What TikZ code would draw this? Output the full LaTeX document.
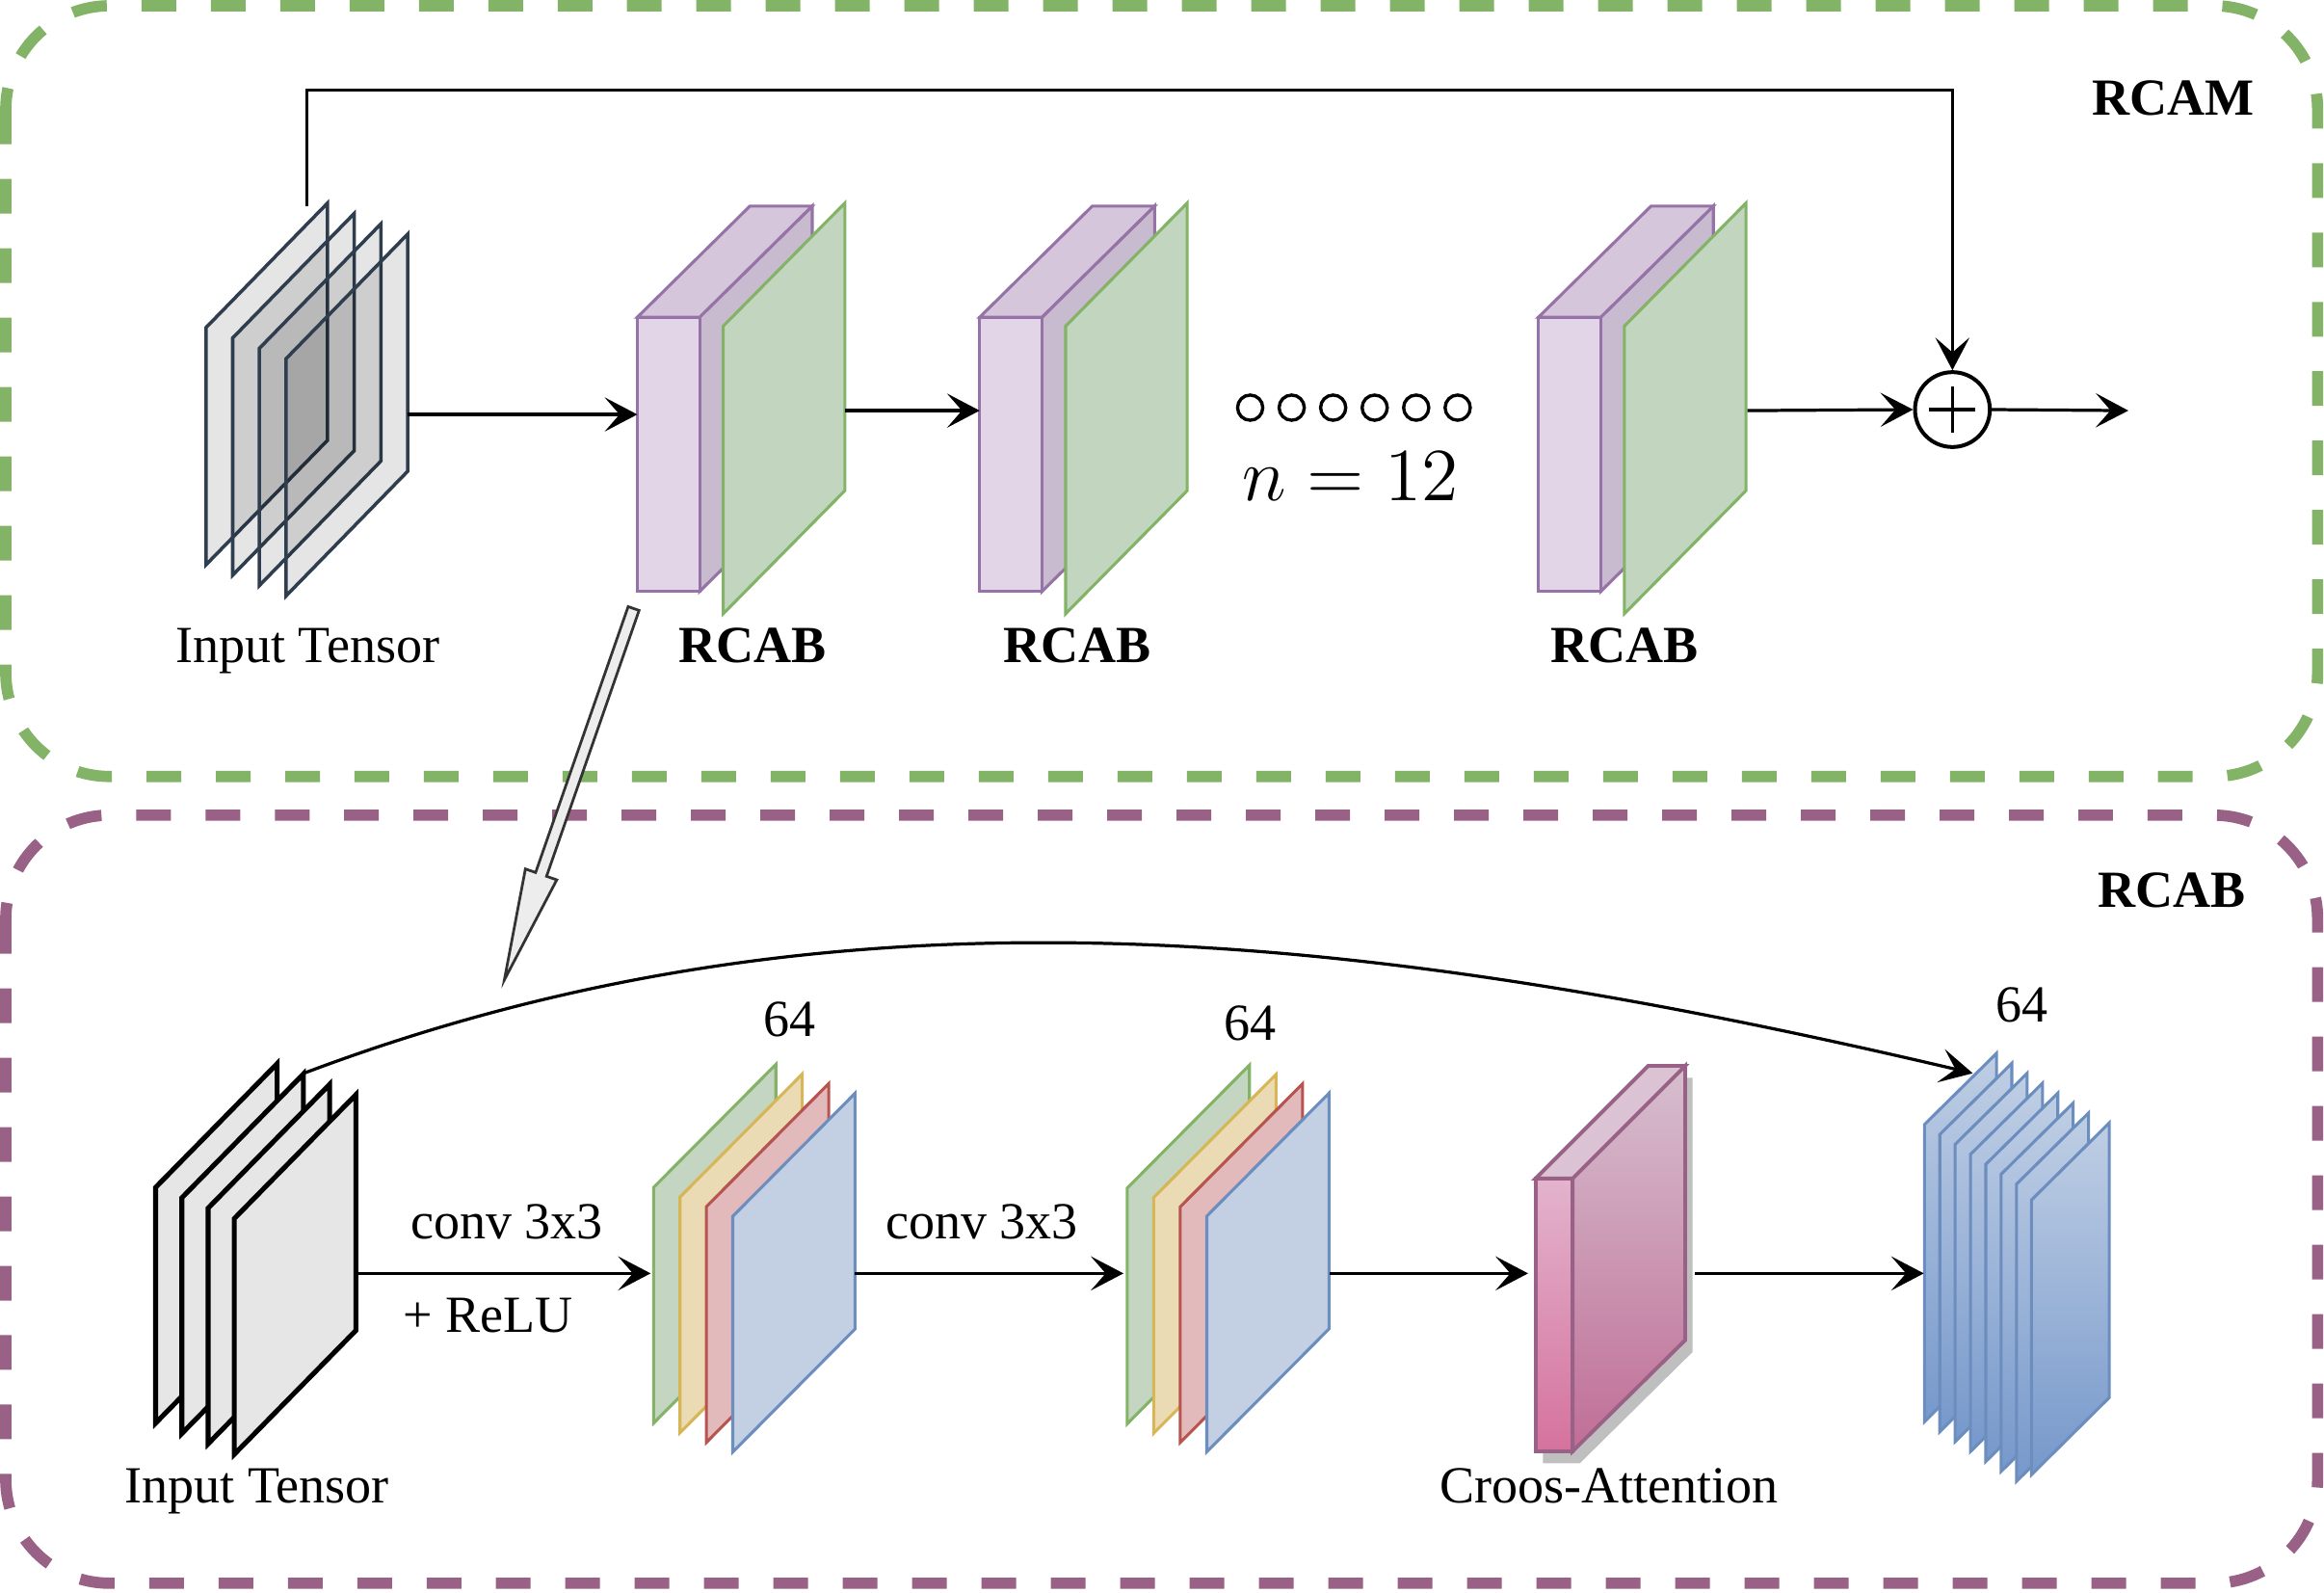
\documentclass[tikz,border=0pt]{standalone}
\usepackage{amsmath}
\usepackage{fontspec}
\setmainfont{Liberation Serif}
\usepackage{tikz}
\usetikzlibrary{arrows.meta,calc}

\definecolor{rcamgreen}{HTML}{82B366}
\definecolor{rcabpurple}{HTML}{996185}
\definecolor{slate}{HTML}{2F3E4E}
\definecolor{lilac}{HTML}{E2D5E7}
\definecolor{lilactop}{HTML}{D6C6DC}
\definecolor{lilacside}{HTML}{C9BBCF}
\definecolor{lilacline}{HTML}{9673A6}
\definecolor{sage}{HTML}{C2D6BF}
\definecolor{sageline}{HTML}{82B366}
\definecolor{mapgreen}{HTML}{C4D5C2}
\definecolor{mapyellow}{HTML}{EADBB4}
\definecolor{mapred}{HTML}{E2BABB}
\definecolor{mapblue}{HTML}{C3D0E3}
\definecolor{yellowline}{HTML}{D6B656}
\definecolor{redline}{HTML}{B85450}
\definecolor{blueline}{HTML}{6C8EBF}
\definecolor{stacktop}{HTML}{BFCEE4}
\definecolor{stackbot}{HTML}{7698CB}
\definecolor{pinkline}{HTML}{996185}
\definecolor{pinktop}{HTML}{DCC3D4}
\definecolor{pinkfronttop}{HTML}{E3B3CC}
\definecolor{pinkfrontbot}{HTML}{D5729E}
\definecolor{pinksidetop}{HTML}{D6BFCF}
\definecolor{pinksidebot}{HTML}{C06E96}
\definecolor{tensorgrey}{HTML}{E6E6E6}

\tikzset{
  lbl/.style={font=\fontsize{10}{12}\selectfont, anchor=base, inner sep=0pt},
  boxlbl/.style={font=\fontsize{10}{12}\selectfont\bfseries, anchor=base, inner sep=0pt},
  arr/.style={-{Stealth[length=2.2mm,width=2.3mm,inset=1mm]}, line width=0.21mm},
  panel/.style={dash pattern=on 2.34mm off 2.34mm, line width=0.76mm, rounded corners=7mm},
}

\begin{document}
\begin{tikzpicture}[x=0.1mm, y=-0.1mm]
        \useasboundingbox (0,0) rectangle (1568,1074);

        \draw[panel, rcamgreen] (3.9,3.9) rectangle (1563.7,523.8);
        \draw[panel, rcabpurple] (3.9,549.9) rectangle (1563.7,1068);

        \foreach \i in {0,...,3}
            \draw[slate, line width=0.23mm, fill=black, fill opacity=0.1]
                ({139+18*\i},{221+7*\i}) -- ++(82,-84) -- ++(0,160) -- ++(-82,84) -- cycle;

        \foreach \dx in {0,231,608}{
            \draw[lilacline, line width=0.2mm, fill=lilacside] ({472+\dx},214) -- ++(76,-75) -- ++(0,185) -- ++(-76,75) -- cycle;
            \draw[lilacline, line width=0.2mm, fill=lilactop] ({430+\dx},214) -- ++(76,-75) -- ++(42,0) -- ++(-76,75) -- cycle;
            \draw[lilacline, line width=0.2mm, fill=lilac] ({430+\dx},214) rectangle ++(42,185);
            \draw[sageline, line width=0.2mm, fill=sage] ({488+\dx},220) -- ++(82,-83) -- ++(0,194) -- ++(-82,83) -- cycle;
        }

        \node[lbl] (intop) at (207.5,447) {Input Tensor};
        \node[boxlbl] (rcabA) at (508,447) {RCAB};
        \node[boxlbl] (rcabB) at (727,447) {RCAB};
        \node[boxlbl] (rcabC) at (1096,447) {RCAB};
        \node[boxlbl] (rcam) at (1466,78) {RCAM};

        \foreach \k in {0,...,5}
            \draw[line width=0.22mm] ({843.5+28*\k},275) circle [radius=0.85mm];
        \node[font=\fontsize{13.6}{16}\selectfont, anchor=base, inner sep=0pt] (nrep) at (911,337.5) {$n=12$};

        \node[draw, circle, line width=0.26mm, minimum size=5.05mm, inner sep=0pt] (plus) at (1317.3,276.3) {};
        \draw[line width=0.22mm] ($(plus)+(-15.6,0)$) -- ($(plus)+(15.6,0)$);
        \draw[line width=0.22mm] ($(plus)+(0,-15.6)$) -- ($(plus)+(0,15.6)$);

        \coordinate (tinout) at (275,279.6);
        \coordinate (inA) at (430,279.6);
        \coordinate (outA) at (570,277);
        \coordinate (inB) at (661,277);
        \coordinate (outC) at (1179,277);
        \coordinate (rcamout) at (1436,277);
        \coordinate (skipS) at (207,139);

        \draw[arr] (tinout) -- (inA);
        \draw[arr] (outA) -- (inB);
        \draw[arr] (outC) -- (plus.west);
        \draw[arr] (plus.east) -- (rcamout);
        \draw[arr] (skipS) -- ++(0,-78) -| (plus.north);

        \coordinate (zoomS) at (427.5,410.5);
        \coordinate (zoomE) at (340.3,661);
        \coordinate (zoomB) at ($(zoomE)!0.284!(zoomS)$);
        \draw[line width=0.18mm, draw=black!80, fill=black!7]
            ($(zoomS)!0.39mm!90:(zoomE)$) -- ($(zoomB)!0.39mm!-90:(zoomS)$) -- ($(zoomB)!1.12mm!-90:(zoomS)$)
            -- (zoomE) -- ($(zoomB)!1.12mm!90:(zoomS)$) -- ($(zoomB)!0.39mm!90:(zoomS)$)
            -- ($(zoomS)!0.39mm!-90:(zoomE)$) -- cycle;

        \foreach \i in {0,...,3}
            \draw[black, line width=0.33mm, fill=tensorgrey]
                ({105+17.7*\i},{801+7*\i}) -- ++(82,-83.5) -- ++(0,159) -- ++(-82,83.5) -- cycle;

        \foreach \fc/\lc [count=\i from 0] in {mapgreen/sageline,mapyellow/yellowline,mapred/redline,mapblue/blueline}{
            \draw[\lc, line width=0.2mm, fill=\fc]
                ({441+17.8*\i},{801+6.5*\i}) -- ++(82.5,-83) -- ++(0,159) -- ++(-82.5,83) -- cycle;
            \draw[\lc, line width=0.2mm, fill=\fc]
                ({760.5+17.9*\i},{801.5+6.3*\i}) -- ++(82.5,-83) -- ++(0,159) -- ++(-82.5,83) -- cycle;
        }

        \fill[black, opacity=0.25] (1041,803) -- ++(76,-76) -- ++(25,0) -- ++(0,185) -- ++(-76,75) -- ++(-25,0) -- cycle;
        \draw[pinkline, line width=0.25mm, top color=pinksidetop, bottom color=pinksidebot]
            (1061,795) -- (1137,719) -- (1137,904) -- (1061,979) -- cycle;
        \draw[pinkline, line width=0.25mm, fill=pinktop]
            (1036,795) -- (1112,719) -- (1137,719) -- (1061,795) -- cycle;
        \draw[pinkline, line width=0.25mm, top color=pinkfronttop, bottom color=pinkfrontbot]
            (1036,795) rectangle (1061,979);

        \foreach \i in {0,...,6}
            \draw[blueline, line width=0.2mm, top color=stacktop, bottom color=stackbot]
                ({1298.4+10.35*\i},{758.6+6.7*\i}) -- ++(48.6,-48) -- ++(0,200.5) -- ++(-48.6,48) -- cycle;
        \draw[blueline, line width=0.2mm, top color=stacktop, bottom color=stackbot]
            (1370.6,809.5) -- ++(52.5,-52) -- ++(0,185.3) -- ++(-52.5,52) -- cycle;

        \node[lbl] (inbot) at (173.3,1013.6) {Input Tensor};
        \node[lbl] (convA) at (342,836) {conv 3x3};
        \node[lbl] (relu) at (329.3,899) {+ ReLU};
        \node[lbl] (convB) at (662.5,836) {conv 3x3};
        \node[lbl] (dimA) at (533,699) {64};
        \node[lbl] (dimB) at (843.5,701.6) {64};
        \node[lbl] (dimC) at (1364,689.6) {64};
        \node[lbl] (attn) at (1085.5,1013.6) {Croos-Attention};
        \node[boxlbl] (rcabtitle) at (1465.5,612) {RCAB};

        \coordinate (tinbot) at (240,859);
        \coordinate (mapAin) at (439,859);
        \coordinate (mapAout) at (576.5,859);
        \coordinate (mapBin) at (758,859);
        \coordinate (mapBout) at (896.8,859);
        \coordinate (attnin) at (1031,859);
        \coordinate (attnout) at (1143.6,859);
        \coordinate (stackin) at (1298,859);
        \coordinate (skipA) at (205,724);
        \coordinate (skipB) at (1331,724);

        \draw[arr] (tinbot) -- (mapAin);
        \draw[arr] (mapAout) -- (mapBin);
        \draw[arr] (mapBout) -- (attnin);
        \draw[arr] (attnout) -- (stackin);
        \draw[arr] (skipA) .. controls (560,590) and (910,625) .. (skipB);
    \end{tikzpicture}
\end{document}
